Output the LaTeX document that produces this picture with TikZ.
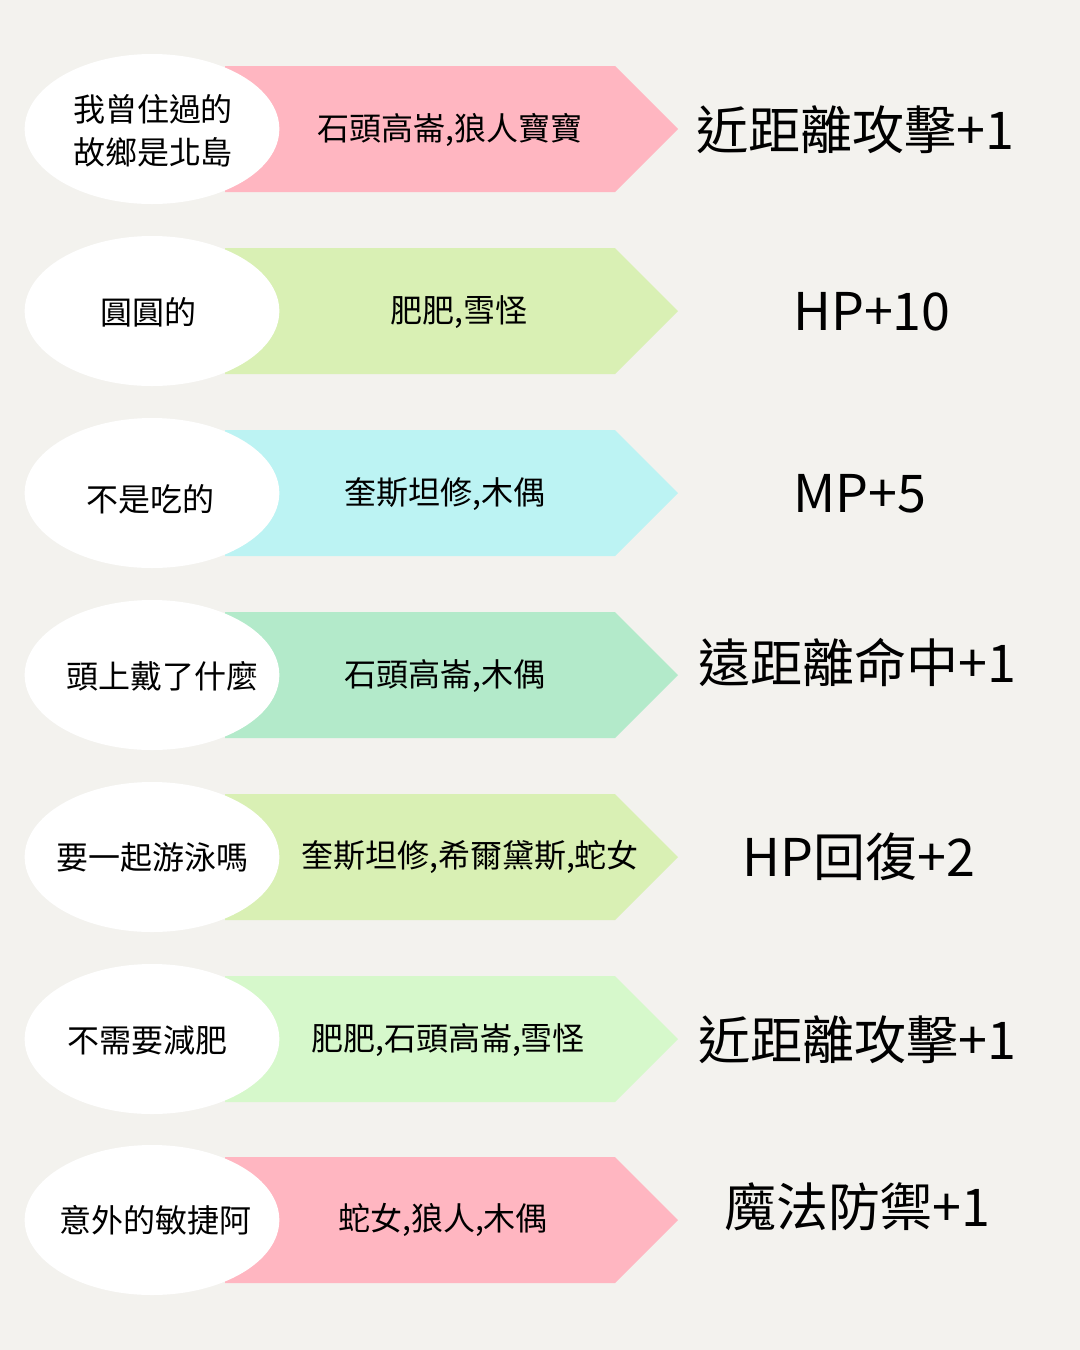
\documentclass[tikz,border=0pt]{standalone}
\usepackage{fontspec}
\setmainfont{Noto Sans CJK TC}
\usetikzlibrary{shapes.geometric}
\definecolor{bg}{HTML}{F3F2EE}
\definecolor{cpink}{HTML}{FFB6C1}
\definecolor{cgreen}{HTML}{D9F0B4}
\definecolor{ccyan}{HTML}{BCF3F3}
\definecolor{cmint}{HTML}{B3EACA}
\definecolor{clight}{HTML}{D6F8CB}
\newcommand{\tagarrow}[2]{\fill[#2] (225,#1-63) -- (615,#1-63) -- (678,#1) -- (615,#1+63) -- (225,#1+63) -- cycle;}
\tikzset{
  bubble/.style={ellipse, fill=white, minimum width=191pt, minimum height=112.5pt, inner sep=0pt},
  smalltxt/.style={font=\fontsize{24}{32}\selectfont, text=black, inner sep=0pt},
  bigtxt/.style={font=\fontsize{39}{44}\selectfont, text=black, inner sep=0pt}
}
\begin{document}
\begin{tikzpicture}[x=0.75pt,y=-0.75pt]
\fill[bg] (0,0) rectangle (1080,1350);
\useasboundingbox (0,0) rectangle (1080,1350);

% row 1
\tagarrow{129}{cpink}
\node[bubble] (b1) at (152,129) {};
\node[smalltxt, align=center] (l1) at (153,131) {我曾住過的\\故鄉是北島};
\node[smalltxt] (m1) at (450,130) {石頭高崙,狼人寶寶};
\node[bigtxt] (r1) at (855,130) {近距離攻擊+1};

% row 2
\tagarrow{311}{cgreen}
\node[bubble] (b2) at (152,311) {};
\node[smalltxt] (l2) at (148,312) {圓圓的};
\node[smalltxt] (m2) at (459,312) {肥肥,雪怪};
\node[bigtxt] (r2) at (872,312) {HP+10};

% row 3
\tagarrow{493}{ccyan}
\node[bubble] (b3) at (152,493) {};
\node[smalltxt] (l3) at (150,499) {不是吃的};
\node[smalltxt] (m3) at (445,494) {奎斯坦修,木偶};
\node[bigtxt] (r3) at (860,494) {MP+5};

% row 4
\tagarrow{675}{cmint}
\node[bubble] (b4) at (152,675) {};
\node[smalltxt] (l4) at (162,676) {頭上戴了什麼};
\node[smalltxt] (m4) at (445,676) {石頭高崙,木偶};
\node[bigtxt] (r4) at (857,662) {遠距離命中+1};

% row 5
\tagarrow{857}{cgreen}
\node[bubble] (b5) at (152,857) {};
\node[smalltxt] (l5) at (152,857) {要一起游泳嗎};
\node[smalltxt] (m5) at (470,857) {奎斯坦修,希爾黛斯,蛇女};
\node[bigtxt] (r5) at (859,857) {HP回復+2};

% row 6
\tagarrow{1039}{clight}
\node[bubble] (b6) at (152,1039) {};
\node[smalltxt] (l6) at (147,1040) {不需要減肥};
\node[smalltxt] (m6) at (448,1040) {肥肥,石頭高崙,雪怪};
\node[bigtxt] (r6) at (857,1040) {近距離攻擊+1};

% row 7
\tagarrow{1220}{cpink}
\node[bubble] (b7) at (152,1220) {};
\node[smalltxt] (l7) at (156,1220) {意外的敏捷阿};
\node[smalltxt] (m7) at (443,1220) {蛇女,狼人,木偶};
\node[bigtxt] (r7) at (857,1207) {魔法防禦+1};
\end{tikzpicture}
\end{document}
